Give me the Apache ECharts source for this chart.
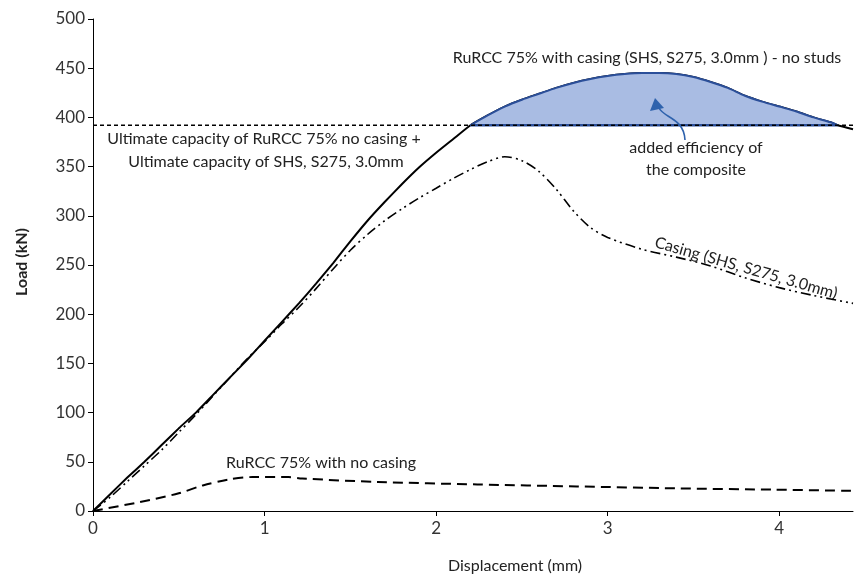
<!DOCTYPE html>
<html>
<head>
<meta charset="utf-8">
<script src="https://cdn.jsdelivr.net/npm/echarts@6/dist/echarts.min.js"></script>
<style>html,body{margin:0;padding:0;background:#fff}#c{width:854px;height:581px}</style>
</head>
<body>
<div id="c"></div>
<script>
// ---- data ----
const xMax = 4.43;
const ultimateCapacity = 392;
const compositeX = [0, 0.1, 0.2, 0.3, 0.4, 0.5, 0.6, 0.7, 0.8, 0.9, 1.0, 1.1, 1.2, 1.3, 1.4, 1.5, 1.6, 1.7, 1.8, 1.9, 2.0, 2.1, 2.2];
const compositeY = [0, 17, 34, 50, 67, 84, 100, 118, 136, 154, 173, 192, 211, 231, 252, 274, 295, 314, 332, 349, 364, 378, 392];
const gainX = [2.2, 2.3, 2.4, 2.5, 2.6, 2.7, 2.8, 2.9, 3.0, 3.1, 3.2, 3.3, 3.4, 3.5, 3.6, 3.7, 3.8, 3.9, 4.0, 4.1, 4.2, 4.3, 4.34];
const gainY = [392, 402, 411, 418, 424, 430, 435, 439, 442, 444, 445, 445, 444, 441, 436, 430, 422, 416, 411, 406, 400, 395, 392];
const tailX = [4.34, 4.43];
const tailY = [392, 388];
const casingX = [0, 0.1, 0.2, 0.3, 0.4, 0.5, 0.6, 0.7, 0.8, 0.9, 1.0, 1.1, 1.2, 1.3, 1.4, 1.5, 1.6, 1.7, 1.8, 1.9, 2.0, 2.1, 2.2, 2.3, 2.4, 2.5, 2.6, 2.7, 2.8, 2.9, 3.0, 3.2, 3.4, 3.6, 3.8, 4.0, 4.2, 4.43];
const casingY = [0, 14, 30, 46, 62, 80, 98, 117, 136, 155, 172, 190, 207, 226, 246, 265, 281, 295, 307, 318, 328, 338, 347, 355, 360, 356, 345, 327, 305, 288, 278, 266, 258, 249, 237, 227, 219, 211];
const noCasingX = [0, 0.27, 0.5, 0.64, 0.79, 0.93, 1.14, 1.22, 1.66, 2.24, 2.82, 3.4, 3.97, 4.43];
const noCasingY = [0, 9, 18, 26, 32, 34.5, 34.5, 33, 29.5, 27, 25, 23, 21.7, 20.5];
const xTicks = [0, 1, 2, 3, 4];

const zip = (xs, ys) => xs.map((x, i) => [x, ys[i]]);
const compositeAll = zip(compositeX, compositeY).concat(zip(gainX, gainY).slice(1)).concat(zip(tailX, tailY).slice(1));

const chart = echarts.init(document.getElementById('c'), null, {renderer: 'canvas'});
const FONT = 'Lato';
const txt = (x, y, s, opts) => Object.assign({
  type: 'text', x: x, y: y,
  style: Object.assign({text: s, font: '16px ' + FONT, fill: '#222', align: 'center', verticalAlign: 'middle'}, (opts && opts.style) || {})
}, opts && opts.el || {});

chart.setOption({
  animation: false,
  grid: {left: 93, right: 1, top: 19, bottom: 70, containLabel: false},
  xAxis: {
    type: 'value', min: 0, max: xMax, interval: 1,
    axisLine: {show: true, lineStyle: {color: '#000', width: 1}},
    axisTick: {show: true, length: 5, lineStyle: {color: '#000'}},
    axisLabel: {fontFamily: FONT, fontSize: 17, color: '#333', margin: 9, showMaxLabel: false,
      formatter: v => xTicks.indexOf(v) >= 0 ? String(v) : ''},
    splitLine: {show: false}
  },
  yAxis: {
    type: 'value', min: 0, max: 500, interval: 50,
    axisLine: {show: true, lineStyle: {color: '#000', width: 1}},
    axisTick: {show: true, length: 5, lineStyle: {color: '#000'}},
    axisLabel: {fontFamily: FONT, fontSize: 17, color: '#333', margin: 8},
    splitLine: {show: false}
  },
  series: [
    {type: 'line', data: compositeAll, showSymbol: false, symbol: 'none', smooth: 0.15,
      lineStyle: {color: '#000', width: 2}, z: 3},
    {type: 'line', data: zip(gainX, gainY), showSymbol: false, symbol: 'none', smooth: 0.3,
      lineStyle: {color: '#2b4f9a', width: 2},
      areaStyle: {color: '#a9bce3', opacity: 1, origin: ultimateCapacity}, z: 4},
    {type: 'line', data: [[gainX[0], ultimateCapacity], [gainX[gainX.length - 1], ultimateCapacity]], showSymbol: false, symbol: 'none',
      lineStyle: {color: '#2b4f9a', width: 2.5}, z: 4},
    {type: 'line', data: [[0, ultimateCapacity], [xMax, ultimateCapacity]], showSymbol: false, symbol: 'none',
      lineStyle: {color: '#000', width: 1.5, type: [4, 3]}, z: 5},
    {type: 'line', data: zip(casingX, casingY), showSymbol: false, symbol: 'none', smooth: 0.3,
      lineStyle: {color: '#000', width: 1.6, type: [10, 4, 2, 4, 2, 4]}, z: 3},
    {type: 'line', data: zip(noCasingX, noCasingY), showSymbol: false, symbol: 'none', smooth: 0.3,
      lineStyle: {color: '#000', width: 2, type: [10, 6]}, z: 3}
  ],
  graphic: [
    txt(22, 262, 'Load (kN)', {style: {font: 'bold 16px ' + FONT}, el: {rotation: Math.PI / 2}}),
    txt(515, 566, 'Displacement (mm)', {style: {font: '16px ' + FONT}}),
    txt(647, 58, 'RuRCC 75% with casing (SHS, S275, 3.0mm ) - no studs'),
    txt(696, 148, 'added efficiency of'),
    txt(696, 170, 'the composite'),
    txt(264, 139, 'Ultimate capacity of RuRCC 75% no casing +'),
    txt(266, 162, 'Ultimate capacity of SHS, S275, 3.0mm'),
    txt(321, 463, 'RuRCC 75% with no casing'),
    txt(746, 268, 'Casing (SHS, S275, 3.0mm)', {el: {rotation: -16 * Math.PI / 180}}),
    {type: 'bezierCurve', z: 100, shape: {x1: 685, y1: 140, cpx1: 684, cpy1: 118, cpx2: 664, cpy2: 118, x2: 659, y2: 108},
      style: {stroke: '#2e62ad', lineWidth: 1.6, fill: null}},
    {type: 'polygon', z: 100, shape: {points: [[655, 98], [650, 111], [664, 108]]}, style: {fill: '#2e62ad'}}
  ]
});
</script>
</body>
</html>
